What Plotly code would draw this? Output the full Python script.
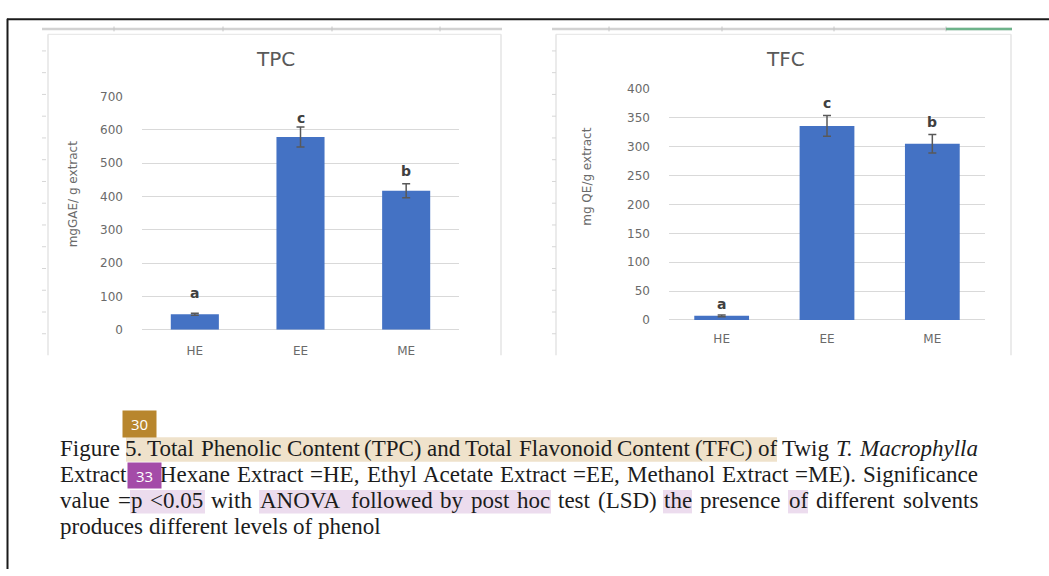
import plotly.graph_objects as go

W, H = 1049, 576

# ---------------- data ----------------
categories = ["HE", "EE", "ME"]

tpc_values = [46, 578, 417]
tpc_errors = [3, 30, 21]
tpc_letters = ["a", "c", "b"]
tpc_letter_y = [110, 635, 477]
tpc_ticks = [0, 100, 200, 300, 400, 500, 600, 700]

tfc_values = [7, 336, 305]
tfc_errors = [1.5, 18, 16]
tfc_letters = ["a", "c", "b"]
tfc_letter_y = [28, 376, 343]
tfc_ticks = [0, 50, 100, 150, 200, 250, 300, 350, 400]

tpc_title = "TPC"
tfc_title = "TFC"
tpc_ytitle = "mgGAE/ g extract"
tfc_ytitle = "mg QE/g extract"

caption_lines = [
    "Figure 5. Total Phenolic Content (TPC) and Total Flavonoid Content (TFC) of Twig T. Macrophylla",
    "Extract (n-Hexane Extract =HE, Ethyl Acetate Extract =EE, Methanol Extract =ME). Significance",
    "value =p <0.05 with ANOVA followed by post hoc test (LSD) the presence of different solvents",
    "produces different levels of phenol",
]
caption_italic = {"T.", "Macrophylla"}


def X(p):
    return p / W


def Y(p):
    return 1 - p / H


BLUE = "#4472C4"
GRID = "#d9d9d9"
TXT = "#6a6a6a"
SANS = "DejaVu Sans"

fig = go.Figure()

fig.add_trace(go.Bar(
    x=categories, y=tpc_values, width=0.455,
    marker=dict(color=BLUE, line=dict(width=0)),
    error_y=dict(type="data", array=tpc_errors, color="#595959", thickness=1.5, width=4),
    xaxis="x", yaxis="y", hoverinfo="skip", showlegend=False,
))
fig.add_trace(go.Bar(
    x=categories, y=tfc_values, width=0.52,
    marker=dict(color=BLUE, line=dict(width=0)),
    error_y=dict(type="data", array=tfc_errors, color="#595959", thickness=1.5, width=4),
    xaxis="x2", yaxis="y2", hoverinfo="skip", showlegend=False,
))

tickfont = dict(family=SANS, size=12, color=TXT)

fig.update_layout(
    width=W, height=H, autosize=False,
    margin=dict(l=0, r=0, t=0, b=0),
    paper_bgcolor="white", plot_bgcolor="white",
    showlegend=False,
    xaxis=dict(domain=[X(142), X(459)], anchor="y", showgrid=False, zeroline=False,
               showline=False, ticks="", tickfont=tickfont, ticklabelstandoff=12,
               fixedrange=True),
    yaxis=dict(domain=[Y(330.7), Y(91.7)], anchor="x", range=[0, 700], tickvals=tpc_ticks,
               showgrid=True, gridcolor=GRID, gridwidth=1, zeroline=True,
               zerolinecolor=GRID, zerolinewidth=1, showline=False, ticks="",
               tickfont=tickfont, ticklabelstandoff=18, fixedrange=True),
    xaxis2=dict(domain=[X(669), X(985)], anchor="y2", showgrid=False, zeroline=False,
                showline=False, ticks="", tickfont=tickfont, ticklabelstandoff=10,
                fixedrange=True),
    yaxis2=dict(domain=[Y(320.7), Y(84)], anchor="x2", range=[0, 400], tickvals=tfc_ticks,
                showgrid=True, gridcolor=GRID, gridwidth=1, zeroline=True,
                zerolinecolor=GRID, zerolinewidth=1, showline=False, ticks="",
                tickfont=tickfont, ticklabelstandoff=18, fixedrange=True),
)

annotations = []


def pann(x, y, text, font, **kw):
    d = dict(x=X(x), y=Y(y), xref="paper", yref="paper", text=text, showarrow=False,
             xanchor="center", yanchor="middle", font=font)
    d.update(kw)
    annotations.append(d)


# chart titles and axis titles
pann(275, 53, tpc_title, dict(family=SANS, size=20, color="#595959"))
pann(785, 53, tfc_title, dict(family=SANS, size=20, color="#595959"))
pann(73, 192, tpc_ytitle, dict(family=SANS, size=12, color=TXT), textangle=-90)
pann(587, 174, tfc_ytitle, dict(family=SANS, size=12, color=TXT), textangle=-90)

# significance letters
for cat, lab, ly in zip(categories, tpc_letters, tpc_letter_y):
    annotations.append(dict(x=cat, y=ly, xref="x", yref="y", text="<b>%s</b>" % lab,
                            showarrow=False, xanchor="center", yanchor="middle",
                            font=dict(family=SANS, size=14, color="#404040")))
for cat, lab, ly in zip(categories, tfc_letters, tfc_letter_y):
    annotations.append(dict(x=cat, y=ly, xref="x2", yref="y2", text="<b>%s</b>" % lab,
                            showarrow=False, xanchor="center", yanchor="middle",
                            font=dict(family=SANS, size=14, color="#404040")))

# ---------------- caption (justified, word by word) ----------------
ROMAN = {" ": 250, "(": 333, ")": 333, ",": 250, "-": 333, ".": 250, "<": 564, "=": 564,
         "A": 722, "C": 667, "D": 722, "E": 611, "F": 556, "H": 722, "L": 611, "M": 889,
         "N": 722, "O": 722, "P": 556, "S": 556, "T": 611, "V": 722, "a": 444, "b": 500,
         "c": 444, "d": 500, "e": 444, "f": 333, "g": 500, "h": 500, "i": 278, "l": 278,
         "n": 500, "o": 500, "p": 500, "r": 333, "s": 389, "t": 278, "u": 500, "v": 500,
         "w": 722, "x": 500, "y": 500}
ITAL = {"T": 556, ".": 250, "M": 833, "a": 500, "c": 444, "r": 389, "o": 500, "p": 500,
        "h": 500, "y": 444, "l": 278}
FS = 23
LEFT, RIGHT = 60, 978
line_y = [453, 479.5, 506, 532.5]


def word_w(w, ital):
    tab = ITAL if ital else ROMAN
    return sum(500 if c.isdigit() else tab.get(c, 500) for c in w) * FS / 1000.0


for li, line_text in enumerate(caption_lines):
    words = line_text.split(" ")
    widths = [word_w(w, w in caption_italic) for w in words]
    if li < len(caption_lines) - 1:
        gap = (RIGHT - LEFT - sum(widths)) / (len(words) - 1)
    else:
        gap = 0.25 * FS
    xpos = LEFT
    for w, ww in zip(words, widths):
        txt = "<i>%s</i>" % w if w in caption_italic else w
        pann(xpos, line_y[li], txt,
             dict(family="Liberation Serif", size=FS, color="#1c1c1c"),
             xanchor="left", borderpad=0, borderwidth=0)
        xpos += ww + gap

# comment badges (on top of the text)
pann(139.5, 427.5, "30", dict(family="Open Sans", size=15, color="white"),
     bgcolor="#b8862d", width=33, height=26, borderpad=0)
pann(144.5, 480.5, "33", dict(family="Open Sans", size=15, color="white"),
     bgcolor="#a44ba8", width=33, height=25, borderpad=0)

fig.update_layout(annotations=annotations)

# ---------------- decorations ----------------
shapes = []


def rect(x0, y0, x1, y1, fill, layer="below"):
    shapes.append(dict(type="rect", xref="paper", yref="paper", x0=X(x0), x1=X(x1),
                       y0=Y(y1), y1=Y(y0), fillcolor=fill, line=dict(width=0), layer=layer))


def seg(x0, y0, x1, y1, color, width, layer="above"):
    shapes.append(dict(type="line", xref="paper", yref="paper", x0=X(x0), x1=X(x1),
                       y0=Y(y0), y1=Y(y1), line=dict(color=color, width=width), layer=layer))


# highlights
rect(126, 441, 777, 466, "#efe2cb")
rect(130, 495, 205, 519, "#ecdcee")
rect(259, 495, 551, 519, "#ecdcee")
rect(663, 495, 692, 519, "#ecdcee")
rect(788, 495, 808, 519, "#ecdcee")

# page border
seg(7, 12.5, W, 12.5, "#1a1a1a", 2)
seg(7.5, 12, 7.5, H, "#1a1a1a", 2)

# chart frames (screenshot of spreadsheet)
for (fx0, fx1, hx0, hx1, cols) in [(48, 501, 42, 502, [114, 223, 332, 440]),
                                   (556, 1011, 552, 1012, [609, 722, 834, 946])]:
    seg(hx0, 22.5, hx1, 22.5, "#d2d2d2", 2.5)
    for c in cols:
        seg(c, 20, c, 25, "#c4c4c4", 1)
    seg(fx0, 28, fx1, 28, "#e4e4e4", 1)
    seg(fx0, 28, fx0, 357, "#e4e4e4", 1.5)
    seg(fx1, 28, fx1, 357, "#e4e4e4", 1.5)
    yy = 45
    while yy < 357:
        seg(hx0, yy, hx0 + 4, yy, "#d6d6d6", 1)
        yy += 22.3
seg(946, 22.5, 1012, 22.5, "#6db38a", 2.5)

# small gap in top TFC gridline
seg(807, 84, 838, 84, "white", 3)

fig.update_layout(shapes=shapes)

fig.write_html("out.html", config={"displayModeBar": False},
               post_script="document.body.style.margin='0px';")
